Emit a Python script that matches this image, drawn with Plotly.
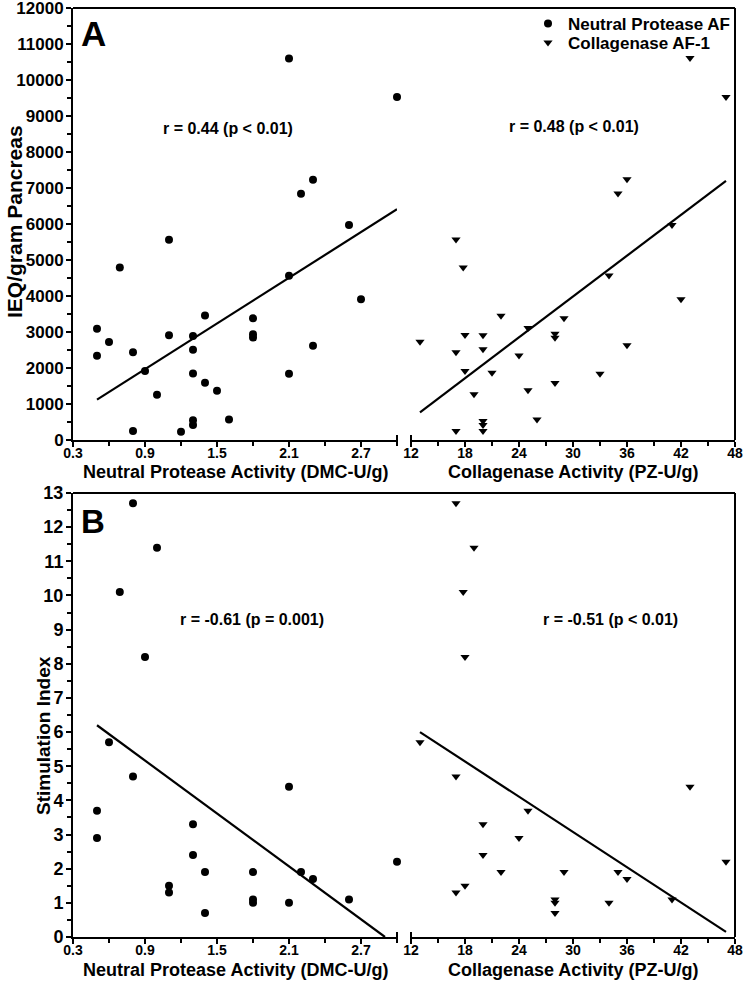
import plotly.graph_objects as go

# ---------------- data ----------------
# Panel A: IEQ/gram pancreas vs enzyme activity
np_act_A = [2.1, 3.0, 2.3, 2.2, 2.6, 1.1, 0.69, 2.1, 2.7, 1.4, 1.8, 0.5, 1.1, 1.3, 1.8, 1.8,
            0.6, 0.5, 0.8, 1.3, 2.3, 0.9, 1.3, 2.1, 1.4, 1.5, 1.0, 1.6, 1.3, 1.3, 0.8, 1.2]
np_ieq_A = [10600, 9530, 7230, 6840, 5970, 5560, 4790, 4560, 3910, 3460, 3380, 3090, 2910, 2890, 2940, 2850,
            2720, 2340, 2440, 2510, 2620, 1920, 1850, 1840, 1590, 1370, 1260, 570, 550, 420, 250, 230]
col_act_A = [43, 47, 36, 35, 41, 17, 17.8, 34, 42, 22, 29, 25, 18, 20, 28, 28,
             13, 17, 20, 24, 36, 18, 21, 33, 19, 25, 28, 26, 17, 20, 20, 20]
col_ieq_A = [10610, 9530, 7240, 6850, 5970, 5570, 4790, 4570, 3910, 3450, 3380, 3110, 2920, 2910, 2950, 2840,
             2730, 2440, 2520, 2350, 2630, 1920, 1870, 1840, 1270, 1380, 1580, 570, 250, 530, 415, 250]
np_fit_x_A = [0.5, 3.0]
np_fit_y_A = [1120, 6410]
col_fit_x_A = [13, 47]
col_fit_y_A = [770, 7200]

# Panel B: stimulation index vs enzyme activity
np_act_B = [0.8, 1.0, 0.69, 0.9, 0.6, 0.8, 2.1, 0.5, 1.3, 0.5, 1.3, 3.0, 1.4, 1.8, 2.2, 2.3,
            1.1, 1.1, 1.8, 1.8, 2.1, 2.6, 1.4]
np_si_B = [12.7, 11.4, 10.1, 8.2, 5.7, 4.7, 4.4, 3.7, 3.3, 2.9, 2.4, 2.2, 1.9, 1.9, 1.9, 1.7,
           1.5, 1.3, 1.1, 1.0, 1.0, 1.1, 0.7]
col_act_B = [17, 19, 17.8, 18, 13, 17, 43, 25, 20, 24, 20, 47, 22, 29, 35, 36,
             18, 17, 28, 28, 41, 34, 28]
col_si_B = [12.7, 11.4, 10.1, 8.2, 5.7, 4.7, 4.4, 3.7, 3.3, 2.9, 2.4, 2.2, 1.9, 1.9, 1.9, 1.7,
            1.5, 1.3, 1.1, 1.0, 1.1, 1.0, 0.7]
np_fit_x_B = [0.5, 2.9]
np_fit_y_B = [6.2, 0.0]
col_fit_x_B = [13, 47]
col_fit_y_B = [6.0, 0.15]

np_ticks = [0.3, 0.9, 1.5, 2.1, 2.7]
np_ticklabels = ["0.3", "0.9", "1.5", "2.1", "2.7"]
col_ticks = [12, 18, 24, 30, 36, 42, 48]
ieq_ticks = list(range(0, 12001, 1000))
si_ticks = list(range(0, 14))

# ---------------- layout helpers ----------------
W, H = 744, 991
FONT = "Liberation Sans, Arial, Helvetica, sans-serif"


def fx(p):
    return p / W


def fy(p):
    return 1 - p / H


X_L = (73, 397)
X_R = (411, 735)
PAN_A = (8, 440)
PAN_B = (493, 937)

fig = go.Figure()

circ = dict(symbol="circle", size=8, color="black")
tri = dict(symbol="triangle-down", size=8, color="black")
line = dict(color="black", width=2.2)

fig.add_trace(go.Scatter(x=np_act_A, y=np_ieq_A, mode="markers", marker=circ,
                         name="Neutral Protease AF", xaxis="x", yaxis="y", cliponaxis=False,
                         legend="legend"))
fig.add_trace(go.Scatter(x=col_act_A, y=col_ieq_A, mode="markers", marker=tri,
                         name="Collagenase AF-1", xaxis="x2", yaxis="y", cliponaxis=False,
                         legend="legend2"))
fig.add_trace(go.Scatter(x=np_fit_x_A, y=np_fit_y_A, mode="lines", line=line,
                         showlegend=False, xaxis="x", yaxis="y"))
fig.add_trace(go.Scatter(x=col_fit_x_A, y=col_fit_y_A, mode="lines", line=line,
                         showlegend=False, xaxis="x2", yaxis="y"))

fig.add_trace(go.Scatter(x=np_act_B, y=np_si_B, mode="markers", marker=circ,
                         showlegend=False, xaxis="x3", yaxis="y2", cliponaxis=False))
fig.add_trace(go.Scatter(x=col_act_B, y=col_si_B, mode="markers", marker=tri,
                         showlegend=False, xaxis="x4", yaxis="y2", cliponaxis=False))
fig.add_trace(go.Scatter(x=np_fit_x_B, y=np_fit_y_B, mode="lines", line=line,
                         showlegend=False, xaxis="x3", yaxis="y2"))
fig.add_trace(go.Scatter(x=col_fit_x_B, y=col_fit_y_B, mode="lines", line=line,
                         showlegend=False, xaxis="x4", yaxis="y2"))

axis_common = dict(showline=True, linecolor="black", linewidth=2, ticks="outside",
                   ticklen=5, tickwidth=2, tickcolor="black", showgrid=False,
                   zeroline=False, fixedrange=True, automargin=False,
                   ticklabeloverflow="allow")


def bold(labels):
    return ["<b>%s</b>" % s for s in labels]


def xaxis(dom, rng, vals, labels, step, anchor):
    return dict(axis_common, domain=[fx(dom[0]), fx(dom[1])], range=rng,
                tickmode="array", tickvals=vals, ticktext=bold(labels), anchor=anchor,
                tickfont=dict(family=FONT, size=14, color="black"),
                ticklabelstandoff=-6,
                minor=dict(tickmode="linear", tick0=vals[0], dtick=step, ticks="outside",
                           ticklen=4, tickwidth=2, tickcolor="black", showgrid=False))


def yaxis(pan, rng, vals, step, anchor, size):
    return dict(axis_common, domain=[fy(pan[1]), fy(pan[0])], range=rng,
                tickmode="array", tickvals=vals, ticktext=bold([str(v) for v in vals]),
                anchor=anchor,
                tickfont=dict(family=FONT, size=size, color="black"),
                ticklabelstandoff=-1,
                minor=dict(tickmode="linear", tick0=0, dtick=step, ticks="outside",
                           ticklen=4, tickwidth=2, tickcolor="black", showgrid=False))


leg_font = dict(family=FONT, size=17, color="black", weight="bold")
fig.update_layout(
    width=W, height=H,
    margin=dict(l=0, r=0, t=0, b=0),
    paper_bgcolor="white", plot_bgcolor="white",
    font=dict(family=FONT, color="black"),
    xaxis=xaxis(X_L, [0.3, 3.0], np_ticks, np_ticklabels, 0.3, "y"),
    xaxis2=xaxis(X_R, [12, 48], col_ticks, [str(v) for v in col_ticks], 3, "y"),
    xaxis3=xaxis(X_L, [0.3, 3.0], np_ticks, np_ticklabels, 0.3, "y2"),
    xaxis4=xaxis(X_R, [12, 48], col_ticks, [str(v) for v in col_ticks], 3, "y2"),
    yaxis=yaxis(PAN_A, [0, 12000], ieq_ticks, 500, "x", 17),
    yaxis2=yaxis(PAN_B, [0, 13], si_ticks, 0.5, "x3", 18),
    legend=dict(x=fx(528), y=fy(6), xanchor="left", yanchor="top",
                bgcolor="rgba(0,0,0,0)", font=leg_font),
    legend2=dict(x=fx(528), y=fy(25), xanchor="left", yanchor="top",
                 bgcolor="rgba(0,0,0,0)", font=leg_font),
)

shapes = []
for top, bot in (PAN_A, PAN_B):
    shapes.append(dict(type="line", xref="paper", yref="paper", x0=fx(X_L[0]), x1=fx(X_R[1]),
                       y0=fy(top), y1=fy(top), line=dict(color="black", width=2)))
    shapes.append(dict(type="line", xref="paper", yref="paper", x0=fx(X_R[1]), x1=fx(X_R[1]),
                       y0=fy(top), y1=fy(bot), line=dict(color="black", width=2)))
    for xb in (X_L[1], X_R[0]):
        shapes.append(dict(type="line", xref="paper", yref="paper", x0=fx(xb), x1=fx(xb),
                           y0=fy(bot - 5), y1=fy(bot + 6), line=dict(color="black", width=2)))
fig.update_layout(shapes=shapes)

ann = []


def text(x, y, s, size, angle=0):
    ann.append(dict(x=fx(x), y=fy(y), xref="paper", yref="paper", text="<b>%s</b>" % s,
                    showarrow=False, textangle=angle, xanchor="center", yanchor="middle",
                    font=dict(family=FONT, size=size, color="black")))


text(93, 34, "A", 35)
text(93, 521, "B", 33)
text(228, 128, "r = 0.44 (p &lt; 0.01)", 16)
text(574, 127, "r = 0.48 (p &lt; 0.01)", 16)
text(252, 619, "r = -0.61 (p = 0.001)", 16)
text(610, 619, "r = -0.51 (p &lt; 0.01)", 16)
text(235, 472, "Neutral Protease Activity (DMC-U/g)", 18)
text(573, 472, "Collagenase Activity (PZ-U/g)", 18)
text(235, 970, "Neutral Protease Activity (DMC-U/g)", 18)
text(573, 970, "Collagenase Activity (PZ-U/g)", 18)
text(14, 222, "IEQ/gram Pancreas", 21, -90)
text(43, 736, "Stimulation Index", 19, -90)
fig.update_layout(annotations=ann)

fig.write_html("out.html", config={"displayModeBar": False},
               post_script="document.body.style.margin='0';document.body.style.overflow='hidden';")
